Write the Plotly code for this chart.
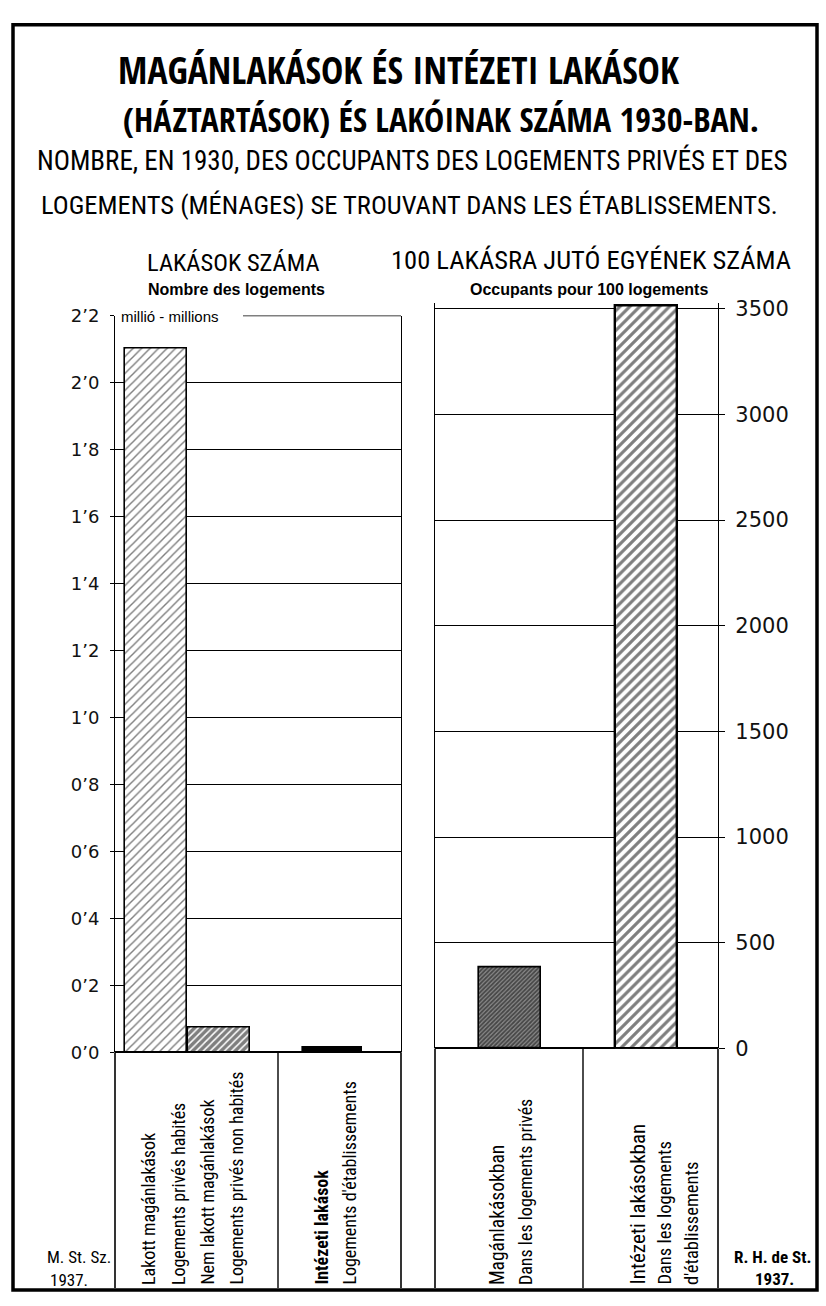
import plotly.graph_objects as go

# ---------------- DATA ----------------
left_categories = ["Lakott magánlakások", "Nem lakott magánlakások", "Intézeti lakások"]
left_values = [2.10, 0.075, 0.015]            # millió lakás / millions de logements
right_categories = ["Magánlakásokban", "Intézeti lakásokban"]
right_values = [385, 3515]                    # 100 lakásra jutó egyének

left_tick_vals = [0.0, 0.2, 0.4, 0.6, 0.8, 1.0, 1.2, 1.4, 1.6, 1.8, 2.0, 2.2]
left_tick_text = ["0’0", "0’2", "0’4", "0’6", "0’8", "1’0", "1’2", "1’4", "1’6", "1’8", "2’0", "2’2"]
right_tick_vals = [0, 500, 1000, 1500, 2000, 2500, 3000, 3500]
right_tick_text = ["0", "500", "1000", "1500", "2000", "2500", "3000", "3500"]

left_label_lines = [
    "Lakott magánlakások", "Logements privés habités",
    "Nem lakott magánlakások", "Logements privés non habités",
    "Intézeti lakások", "Logements d'établissements",
]
right_label_lines = [
    "Magánlakásokban", "Dans les logements privés",
    "Intézeti lakásokban", "Dans les logements", "d'établissements",
]

title_lines = ["MAGÁNLAKÁSOK ÉS INTÉZETI LAKÁSOK", "(HÁZTARTÁSOK) ÉS LAKÓINAK SZÁMA 1930-BAN."]
subtitle_lines = ["NOMBRE, EN 1930, DES OCCUPANTS DES LOGEMENTS PRIVÉS ET DES",
                  "LOGEMENTS (MÉNAGES) SE TROUVANT DANS LES ÉTABLISSEMENTS."]
left_panel_title = "LAKÁSOK SZÁMA"
left_panel_sub = "Nombre des logements"
right_panel_title = "100 LAKÁSRA JUTÓ EGYÉNEK SZÁMA"
right_panel_sub = "Occupants pour 100 logements"
unit_text = "millió - millions"

# ---------------- LAYOUT HELPERS ----------------
W, H = 826, 1306
def px(x):
    return x / W
def py(y):
    return 1 - y / H

COND = "Roboto Condensed, DejaVu Sans Condensed, sans-serif"
COND_BOLD = "Open Sans Condensed, Roboto Condensed, sans-serif"
SANS = "Liberation Sans, Arial, sans-serif"
GEOM = "DejaVu Sans, Verdana, sans-serif"

# panel geometry (pixels)
L_X0, L_X1, L_Y0, L_Y1 = 115, 401, 310, 1060
R_X0, R_X1, R_Y1 = 435, 718, 1056
R_TOP_VAL = 3525
R_Y_3500 = 303
R_Y0 = R_Y1 - (R_Y1 - R_Y_3500) * R_TOP_VAL / 3500

left_x = [41, 104, 217.5]
left_w = [62, 62, 59]
right_x = [75, 211]
right_w = [62, 62]

fig = go.Figure()

left_patterns = [
    dict(shape="/", size=6, solidity=0.24, fgcolor="black", bgcolor="white"),
    dict(shape="/", size=5, solidity=0.7, fgcolor="black", bgcolor="white"),
    dict(shape="", fgcolor="black", bgcolor="black"),
]
for i in range(len(left_categories)):
    fig.add_trace(go.Bar(
        x=[left_x[i]], y=[left_values[i]], width=[left_w[i]],
        name=left_categories[i], xaxis="x", yaxis="y",
        marker=dict(color="black" if i == 2 else "white",
                    line=dict(color="black", width=1.6),
                    pattern=left_patterns[i]),
        showlegend=False, hoverinfo="name+y",
    ))

right_patterns = [
    dict(shape="/", size=3, solidity=0.6, fgcolor="black", bgcolor="#8c8c8c"),
    dict(shape="/", size=7, solidity=0.45, fgcolor="black", bgcolor="white"),
]
for i in range(len(right_categories)):
    fig.add_trace(go.Bar(
        x=[right_x[i]], y=[right_values[i]], width=[right_w[i]],
        name=right_categories[i], xaxis="x2", yaxis="y2",
        marker=dict(color="white", line=dict(color="black", width=2.4 if i == 1 else 1.6),
                    pattern=right_patterns[i]),
        showlegend=False, hoverinfo="name+y",
    ))

fig.update_layout(
    width=W, height=H,
    margin=dict(l=0, r=0, t=0, b=0),
    paper_bgcolor="white", plot_bgcolor="white",
    font=dict(family=COND, color="black"),
    xaxis=dict(domain=[px(L_X0), px(L_X1)], range=[0, L_X1 - L_X0],
               showgrid=False, zeroline=False, showticklabels=False, showline=False, fixedrange=True),
    yaxis=dict(domain=[py(L_Y1), py(L_Y0)], range=[0, 2.2],
               tickvals=left_tick_vals, ticktext=left_tick_text,
               tickfont=dict(family=GEOM, size=18, color="#111"),
               ticks="outside", ticklen=4, tickcolor="black", ticklabelstandoff=7,
               showgrid=True, gridcolor="black", gridwidth=1.2,
               zeroline=True, zerolinecolor="black", zerolinewidth=2.2,
               showline=True, linecolor="black", linewidth=1, mirror=True, fixedrange=True),
    xaxis2=dict(domain=[px(R_X0), px(R_X1)], range=[0, R_X1 - R_X0], anchor="y2",
                showgrid=False, zeroline=False, showticklabels=False, showline=False, fixedrange=True),
    yaxis2=dict(domain=[py(R_Y1), py(R_Y0)], range=[0, R_TOP_VAL], anchor="x2", side="right",
                tickvals=right_tick_vals, ticktext=right_tick_text,
                tickfont=dict(family=GEOM, size=21, color="#111"),
                ticks="outside", ticklen=6, tickcolor="black", ticklabelstandoff=6,
                showgrid=True, gridcolor="black", gridwidth=1.2,
                zeroline=True, zerolinecolor="black", zerolinewidth=2.2,
                showline=True, linecolor="black", linewidth=1.3, mirror=True, fixedrange=True),
    bargap=0,
)

shapes = []
# outer frame
shapes.append(dict(type="rect", xref="paper", yref="paper",
                   x0=px(13), x1=px(817), y0=py(1302), y1=py(14),
                   line=dict(color="black", width=3.5)))
# top border of left panel, to the right of the unit label
shapes.append(dict(type="line", xref="x", yref="y", x0=243 - L_X0, x1=L_X1 - L_X0,
                   y0=left_tick_vals[-1], y1=left_tick_vals[-1],
                   line=dict(color="black", width=1.2)))
# left label box
for xx in [L_X0, 278, L_X1]:
    shapes.append(dict(type="line", xref="paper", yref="paper",
                       x0=px(xx), x1=px(xx), y0=py(L_Y1), y1=py(1300),
                       line=dict(color="black", width=1.6 if xx != 278 else 1.4)))
# right label box
for xx in [R_X0, 583, R_X1]:
    shapes.append(dict(type="line", xref="paper", yref="paper",
                       x0=px(xx), x1=px(xx), y0=py(R_Y1), y1=py(1300),
                       line=dict(color="black", width=1.6 if xx != 583 else 1.4)))
fig.update_layout(shapes=shapes)

ann = []
def add_text(text, x, y, size, family=COND, xanchor="center", yanchor="middle",
             angle=0, bold=False, bg=None, color="black"):
    t = f"<b>{text}</b>" if bold else text
    d = dict(text=t, x=px(x), y=py(y), xref="paper", yref="paper",
             xanchor=xanchor, yanchor=yanchor, showarrow=False, textangle=angle,
             font=dict(family=family, size=size, color=color))
    if bg:
        d["bgcolor"] = bg
    ann.append(d)

add_text(title_lines[0], 116, 60, 37.5, family=COND_BOLD, bold=True, xanchor="left")
add_text(title_lines[1], 121, 110, 34, family=COND_BOLD, bold=True, xanchor="left")
add_text(subtitle_lines[0], 412, 152, 27)
add_text(subtitle_lines[1], 409, 197, 26.5)

add_text(left_panel_title, 233, 256, 24.5)
add_text(left_panel_sub, 236, 284, 16, family=SANS, bold=True)
add_text(right_panel_title, 591, 253, 26.5)
add_text(right_panel_sub, 589, 284, 16, family=SANS, bold=True)
add_text(unit_text, 119, 311, 15, family=SANS, xanchor="left", bg="white")

left_label_x = [148, 178, 208, 237, 322, 350]
for t, xx in zip(left_label_lines, left_label_x):
    add_text(t, xx, 1299, 18, angle=-90, yanchor="bottom", bold=(t.startswith("Intézeti")))
right_label_x = [497, 525, 638, 665, 692]
right_label_size = [19.5, 18, 21, 18.5, 18.5]
for t, xx, s in zip(right_label_lines, right_label_x, right_label_size):
    add_text(t, xx, 1299, s, angle=-90, yanchor="bottom")

add_text("M. St. Sz.", 45, 1268, 17, xanchor="left")
add_text("1937.", 48, 1292, 17, xanchor="left")
add_text("R. H. de St.", 772, 1268, 17, bold=True)
add_text("1937.", 774, 1291, 17, bold=True)

fig.update_layout(annotations=ann)

fig.write_html("out.html", config={"displayModeBar": False},
               post_script="document.body.style.margin='0px';")
